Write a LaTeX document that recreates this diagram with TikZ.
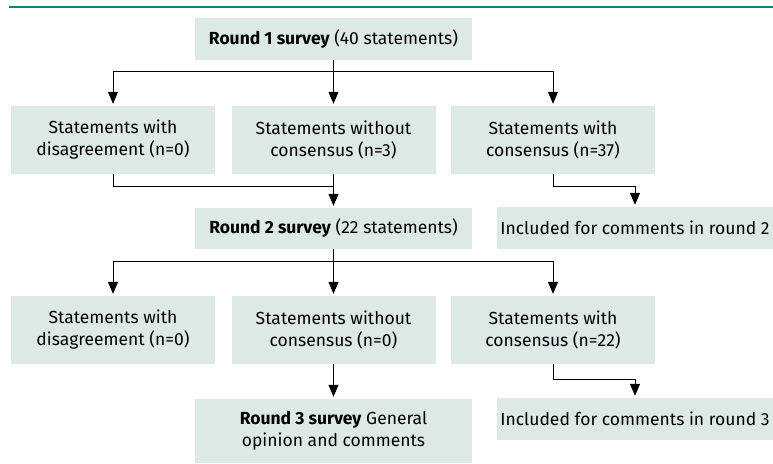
\documentclass[tikz,border=0pt]{standalone}
\usepackage{fontspec}
\setmainfont{Fira Sans}
\usepackage{tikz}
\usetikzlibrary{arrows.meta,positioning,calc}
\definecolor{boxfill}{HTML}{DDE9E7}
\definecolor{rulecol}{HTML}{0F8074}

\begin{document}
\begin{tikzpicture}[
    x=1pt, y=-1pt,
    box/.style={fill=boxfill, minimum width=204pt, minimum height=68pt, align=center, inner sep=0pt, font=\fontsize{17.5}{22}\selectfont},
    wide/.style={box, minimum width=277pt, minimum height=42pt},
    link/.style={line width=1pt},
    wire/.style={link, -{Triangle[length=12pt,width=10pt]}, shorten >=2pt}
  ]
  \useasboundingbox (0,0) rectangle (773,463);
  \draw[line width=2.2pt, rulecol] (9,7) -- (773,7);

  % round 1
  \node[wide] (r1) at (333.5,39) {\textbf{Round 1 survey} (40 statements)};
  \node[box] (d1) at (113,140) {Statements with\\disagreement (n=0)};
  \node[box] (w1) at (333.5,140) {Statements without\\consensus (n=3)};
  \node[box] (c1) at (553,140) {Statements with\\consensus (n=37)};

  \draw[wire] (r1) -- (w1);
  \draw[wire] (r1.south) ++(0,11) -| (d1.north);
  \draw[wire] (r1.south) ++(0,11) -| (c1.north);

  % round 2
  \node[wide, minimum height=41pt] (r2) at (333.5,228.5) {\textbf{Round 2 survey} (22 statements)};
  \node[wide, minimum width=276pt] (i2) at (635,228) {Included for comments in round 2};
  \coordinate (m1) at (333.5,186);

  \draw[link] (d1.south) |- (m1);
  \draw[wire] (w1) -- (r2);
  \draw[wire] (c1.south) -- ++(0,12) -| (i2.north);

  \node[box] (d2) at (113,330) {Statements with\\disagreement (n=0)};
  \node[box] (w2) at (333.5,330) {Statements without\\consensus (n=0)};
  \node[box] (c2) at (553,330) {Statements with\\consensus (n=22)};

  \draw[wire] (r2) -- (w2);
  \draw[wire] (r2.south) ++(0,12) -| (d2.north);
  \draw[wire] (r2.south) ++(0,12) -| (c2.north);

  % round 3
  \node[wide, minimum height=64pt] (r3) at (333.5,431) {\textbf{Round 3 survey} General\\opinion and comments};
  \node[wide, minimum width=276pt] (i3) at (635,419) {Included for comments in round 3};

  \draw[wire] (w2) -- (r3);
  \draw[wire] (c2.south) -- ++(0,15) -| (i3.north);
\end{tikzpicture}
\end{document}
